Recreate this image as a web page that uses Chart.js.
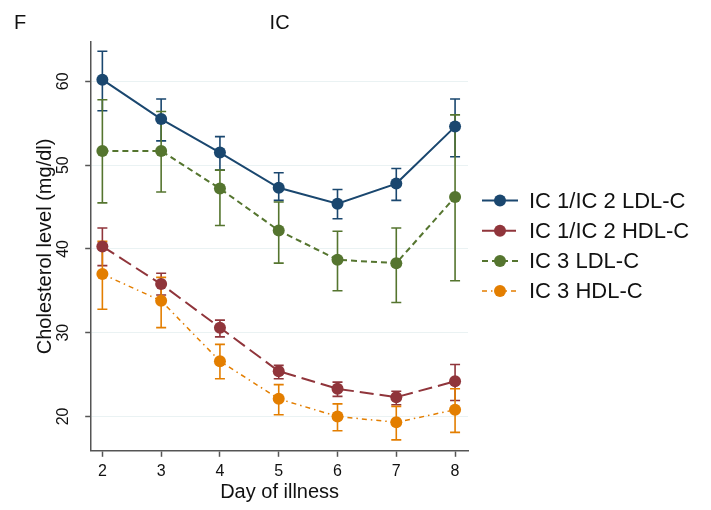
<!DOCTYPE html>
<html>
<head>
<meta charset="utf-8">
<script src="https://cdn.jsdelivr.net/npm/chart.js@4/dist/chart.umd.min.js"></script>
<style>
  body { margin: 0; background: #fff; }
</style>
</head>
<body>
<canvas id="chart" width="711" height="510"></canvas>
<script>
// Days on the x axis
const days = [2, 3, 4, 5, 6, 7, 8];
const yTicks = [20, 30, 40, 50, 60];

// IC 1/IC 2 LDL-C
const ldl12 = [60.2, 55.5, 51.5, 47.3, 45.4, 47.8, 54.6];
const ldl12Lo = [56.5, 52.9, 49.4, 45.8, 43.6, 45.8, 51.0];
const ldl12Hi = [63.6, 57.9, 53.4, 49.1, 47.1, 49.6, 57.9];
// IC 1/IC 2 HDL-C
const hdl12 = [40.3, 35.8, 30.6, 25.4, 23.3, 22.3, 24.2];
const hdl12Lo = [38.0, 34.5, 29.5, 24.5, 22.4, 21.4, 21.9];
const hdl12Hi = [42.5, 37.1, 31.5, 26.1, 24.1, 23.0, 26.2];
// IC 3 LDL-C
const ldl3 = [51.7, 51.7, 47.2, 42.2, 38.7, 38.3, 46.2];
const ldl3Lo = [45.5, 46.8, 42.8, 38.3, 35.0, 33.6, 36.2];
const ldl3Hi = [57.8, 56.4, 49.4, 45.6, 42.1, 42.5, 56.0];
// IC 3 HDL-C
const hdl3 = [37.0, 33.8, 26.6, 22.1, 20.0, 19.3, 20.8];
const hdl3Lo = [32.8, 30.6, 24.5, 20.2, 18.3, 17.2, 18.1];
const hdl3Hi = [40.9, 36.6, 28.6, 23.8, 21.5, 21.2, 23.3];

const FONT = '"Liberation Sans", Arial, Helvetica, sans-serif';

function series(label, values, lo, hi, color, dash, width) {
    return {
        label: label,
        data: days.map((d, i) => ({ x: d, y: values[i] })),
        errLo: lo,
        errHi: hi,
        borderColor: color,
        backgroundColor: color,
        borderWidth: width,
        borderDash: dash,
        pointRadius: 6,
        pointHoverRadius: 6,
        pointBorderWidth: 0,
        pointBackgroundColor: color,
        tension: 0,
        fill: false
    };
}

// capped error bars from the lo/hi arrays
const errorBars = {
    id: 'errorBars',
    beforeDatasetsDraw(chart) {
        const ctx = chart.ctx;
        const xs = chart.scales.x, ys = chart.scales.y;
        chart.data.datasets.forEach(ds => {
            ctx.save();
            ctx.strokeStyle = ds.borderColor;
            ctx.lineWidth = 1.6;
            ds.data.forEach((p, i) => {
                const px = xs.getPixelForValue(p.x);
                const y1 = ys.getPixelForValue(ds.errLo[i]);
                const y2 = ys.getPixelForValue(ds.errHi[i]);
                ctx.beginPath();
                ctx.moveTo(px, y1); ctx.lineTo(px, y2);
                ctx.moveTo(px - 5, y1); ctx.lineTo(px + 5, y1);
                ctx.moveTo(px - 5, y2); ctx.lineTo(px + 5, y2);
                ctx.stroke();
            });
            ctx.restore();
        });
    }
};

// panel letter, title and the legend on the right
const decorations = {
    id: 'decorations',
    afterDraw(chart) {
        const ctx = chart.ctx;
        const a = chart.chartArea;
        ctx.save();
        ctx.font = '20px ' + FONT;
        ctx.fillStyle = '#111';
        ctx.textBaseline = 'alphabetic';
        ctx.textAlign = 'left';
        ctx.fillText('F', 14, 29);
        ctx.textAlign = 'center';
        ctx.fillText('IC', (a.left + a.right) / 2, 29);

        const x0 = a.right + 14;
        ctx.font = '22px ' + FONT;
        ctx.textAlign = 'left';
        ctx.textBaseline = 'middle';
        chart.data.datasets.forEach((ds, i) => {
            const y = 200.5 + i * 30.2;
            ctx.strokeStyle = ds.borderColor;
            ctx.lineWidth = ds.borderWidth;
            ctx.setLineDash(ds.borderDash);
            ctx.beginPath();
            ctx.moveTo(x0, y);
            ctx.lineTo(x0 + 36, y);
            ctx.stroke();
            ctx.setLineDash([]);
            ctx.fillStyle = ds.borderColor;
            ctx.beginPath();
            ctx.arc(x0 + 18, y, 6, 0, Math.PI * 2);
            ctx.fill();
            ctx.fillStyle = '#111';
            ctx.fillText(ds.label, x0 + 47, y + 1);
        });
        ctx.restore();
    }
};

new Chart(document.getElementById('chart'), {
    type: 'line',
    data: {
        datasets: [
            series('IC 1/IC 2 LDL-C', ldl12, ldl12Lo, ldl12Hi, '#1a476f', [], 2),
            series('IC 1/IC 2 HDL-C', hdl12, hdl12Lo, hdl12Hi, '#90353b', [14, 6], 2),
            series('IC 3 LDL-C', ldl3, ldl3Lo, ldl3Hi, '#55752f', [6, 4], 2),
            series('IC 3 HDL-C', hdl3, hdl3Lo, hdl3Hi, '#e37e00', [5, 4, 1.5, 4], 1.5)
        ]
    },
    options: {
        responsive: false,
        animation: false,
        layout: { padding: { top: 42, right: 243, bottom: 6, left: 33 } },
        plugins: {
            tooltip: { enabled: false },
            legend: { display: false }
        },
        scales: {
            x: {
                type: 'linear',
                min: 1.81,
                max: 8.22,
                afterBuildTicks: s => { s.ticks = days.map(v => ({ value: v })); },
                grid: { drawOnChartArea: false, drawTicks: true, tickLength: 6, tickColor: '#555', tickWidth: 1.5 },
                border: { color: '#555', width: 1.5 },
                ticks: { color: '#111', font: { family: FONT, size: 16 }, padding: 5.5, maxRotation: 0 },
                title: { display: true, text: 'Day of illness', color: '#111', font: { family: FONT, size: 20 }, padding: { top: -7, bottom: 0 } }
            },
            y: {
                type: 'linear',
                min: 15.9,
                max: 64.7,
                afterBuildTicks: s => { s.ticks = yTicks.map(v => ({ value: v })); },
                grid: { color: '#eaf2f3', lineWidth: 1, drawTicks: true, tickLength: 6, tickColor: '#555', tickWidth: 1.5 },
                border: { color: '#555', width: 1.5 },
                ticks: { color: '#111', font: { family: FONT, size: 16 }, padding: 13, minRotation: 90, maxRotation: 90, crossAlign: 'center' },
                title: { display: true, text: 'Cholesterol level (mg/dl)', color: '#111', font: { family: FONT, size: 20 }, padding: { top: 0, bottom: -17 } }
            }
        }
    },
    plugins: [errorBars, decorations]
});
</script>
</body>
</html>
